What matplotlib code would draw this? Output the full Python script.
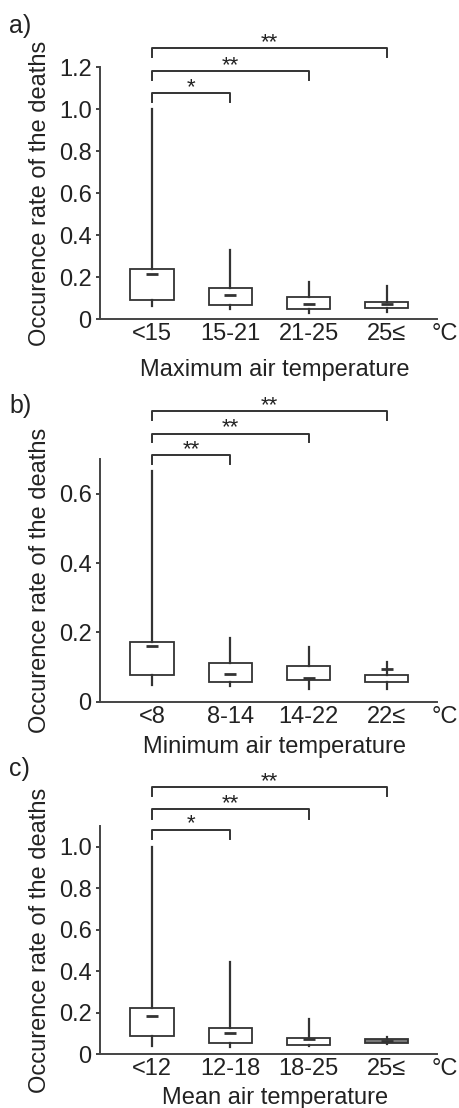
import numpy as np
import matplotlib
matplotlib.use('Agg')
import matplotlib.pyplot as plt

plt.rcParams['font.family'] = ['Liberation Sans', 'DejaVu Sans']

# a) maximum air temperature
a_labels = ['<15', '15-21', '21-25', '25≤']
a_q1 = [0.092, 0.068, 0.047, 0.052]
a_q3 = [0.239, 0.147, 0.106, 0.084]
a_mark = [0.215, 0.115, 0.074, 0.073]
a_lo = [0.065, 0.047, 0.031, 0.036]
a_hi = [1.0, 0.332, 0.176, 0.158]
a_stars = ['*', '**', '**']

# b) minimum air temperature
b_labels = ['<8', '8-14', '14-22', '22≤']
b_q1 = [0.078, 0.057, 0.062, 0.057]
b_q3 = [0.172, 0.113, 0.103, 0.077]
b_mark = [0.162, 0.081, 0.067, 0.093]
b_lo = [0.048, 0.046, 0.036, 0.038]
b_hi = [0.667, 0.184, 0.158, 0.115]
b_stars = ['**', '**', '**']

# c) mean air temperature
c_labels = ['<12', '12-18', '18-25', '25≤']
c_q1 = [0.088, 0.053, 0.045, 0.053]
c_q3 = [0.224, 0.125, 0.080, 0.075]
c_mark = [0.186, 0.101, 0.072, 0.064]
c_lo = [0.040, 0.034, 0.040, 0.050]
c_hi = [1.0, 0.446, 0.168, 0.082]
c_stars = ['*', '**', '**']

col = '#333333'
fs = 17

fig = plt.figure(figsize=(4.6, 11.08), dpi=100)


def panel(rect, labels, q1, q3, mark, lo, hi, ymax, yticks, stars, bar_y, drop,
          letter, letter_y, xlabel, xlabel_y):
    ax = fig.add_axes(rect)
    stats = [dict(med=m, q1=a, q3=b, whislo=l, whishi=h, mean=m, fliers=[])
             for a, b, m, l, h in zip(q1, q3, mark, lo, hi)]
    pos = [1, 2, 3, 4]
    res = ax.bxp(stats, positions=pos, widths=0.55, showmeans=True,
                 showcaps=False, showfliers=False, patch_artist=True,
                 boxprops=dict(facecolor='white', edgecolor=col, linewidth=1.3),
                 whiskerprops=dict(color=col, linewidth=1.6),
                 medianprops=dict(linewidth=0),
                 meanprops=dict(marker='_', markersize=9, markeredgewidth=2,
                                markeredgecolor=col))
    ax.set_xlim(0.336, 4.64)
    ax.set_ylim(0, ymax)
    ax.set_yticks(yticks)
    ax.set_yticklabels(['0' if t == 0 else '%.1f' % t for t in yticks])
    ax.set_xticks(pos)
    ax.set_xticklabels(labels)
    ax.tick_params(axis='x', length=0, pad=3, labelsize=fs, colors='#222222')
    ax.tick_params(axis='y', length=3, width=1.2, pad=3, labelsize=fs,
                   colors='#222222')
    for s in ['top', 'right']:
        ax.spines[s].set_visible(False)
    for s in ['left', 'bottom']:
        ax.spines[s].set_color('#444444')
        ax.spines[s].set_linewidth(1.4)

    # significance brackets from the first group
    for j, (st, y) in enumerate(zip(stars, bar_y)):
        x2 = pos[j + 1]
        ax.plot([1, 1, x2, x2], [y - drop, y, y, y - drop], color=col,
                lw=1.4, clip_on=False)
        ax.annotate(st, xy=((1 + x2) / 2, y), xytext=(0, 0),
                    textcoords='offset points', ha='center', va='baseline',
                    fontsize=16, color='#222222', annotation_clip=False)

    ax.annotate('°C', xy=(0.985, 0), xycoords='axes fraction', xytext=(0, -3),
                textcoords='offset points', ha='left', va='top', fontsize=fs,
                color='#222222', annotation_clip=False)
    ax.text(-0.178, 0.5, 'Occurence rate of the deaths', transform=ax.transAxes,
            rotation=90, ha='center', va='center', fontsize=fs, color='#222222')
    fig.text(9 / 460, 1 - letter_y / 1108, letter, ha='left', va='top',
             fontsize=18, color='#222222')
    fig.text(275 / 460, 1 - xlabel_y / 1108, xlabel, ha='center',
             va='baseline', fontsize=fs, color='#222222')
    return ax, res


panel([0.2174, 0.7118, 0.7326, 0.2277], a_labels, a_q1, a_q3, a_mark, a_lo, a_hi,
      1.2, [0, 0.2, 0.4, 0.6, 0.8, 1.0, 1.2], a_stars, [1.076, 1.18, 1.29], 0.043,
      'a)', 14, 'Maximum air temperature', 376)

panel([0.2174, 0.3667, 0.7326, 0.2188], b_labels, b_q1, b_q3, b_mark, b_lo, b_hi,
      0.7, [0, 0.2, 0.4, 0.6], b_stars, [0.712, 0.774, 0.839], 0.025,
      'b)', 394, 'Minimum air temperature', 753)

ax_c, res_c = panel([0.2174, 0.0485, 0.7326, 0.206], c_labels, c_q1, c_q3, c_mark,
                    c_lo, c_hi, 1.1, [0, 0.2, 0.4, 0.6, 0.8, 1.0], c_stars,
                    [1.083, 1.18, 1.288], 0.045, 'c)', 757,
                    'Mean air temperature', 1104)
res_c['boxes'][3].set_facecolor('#777777')

fig.savefig('out.png', dpi=100)
